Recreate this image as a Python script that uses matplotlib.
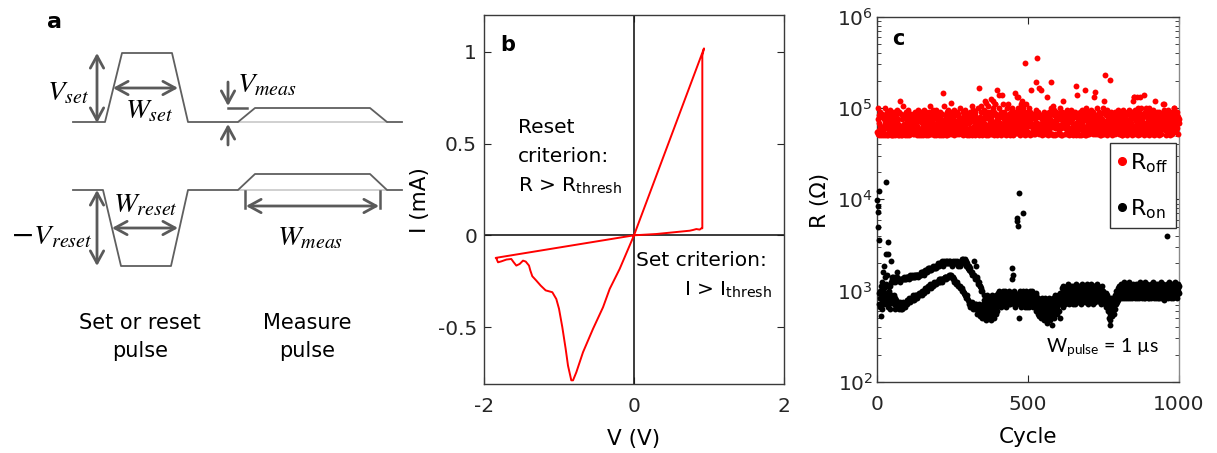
import numpy as np
import matplotlib
matplotlib.use('Agg')
import matplotlib.pyplot as plt
from matplotlib.ticker import LogLocator, NullFormatter
from matplotlib.lines import Line2D

plt.rcParams['font.family'] = ['DejaVu Sans']
plt.rcParams['mathtext.fontset'] = 'custom'
plt.rcParams['mathtext.rm'] = 'DejaVu Sans'
plt.rcParams['mathtext.it'] = 'STIXGeneral:italic'
plt.rcParams['mathtext.bf'] = 'DejaVu Sans:bold'
plt.rcParams['mathtext.sf'] = 'Lato'
plt.rcParams['axes.unicode_minus'] = False

W, H = 1217, 453

# ---------------- panel a: pulse schematic (drawing units = pixels) ----------
set_wave_x = [73, 105, 122, 172, 188, 238, 255, 370, 387, 402]
set_wave_y = [122, 122, 53, 53, 122, 122, 108, 108, 122, 122]
reset_wave_x = [73, 103, 121, 171, 188, 238, 255, 370, 387, 402]
reset_wave_y = [190, 190, 266, 266, 190, 190, 174, 174, 190, 190]

# ---------------- panel b: I-V sweep ----------------------------------------
iv_v = [0.0, 0.298, 0.52, 0.742, 0.787, 0.831, 0.876, 0.898, 0.911, 0.911, 0.933,
        0.0, -0.191, -0.324, -0.413, -0.547, -0.68, -0.769, -0.813, -0.836,
        -0.88, -0.911, -0.956, -1.0, -1.036, -1.089, -1.178, -1.244, -1.302,
        -1.356, -1.382, -1.40, -1.444, -1.48, -1.524, -1.569, -1.604, -1.636,
        -1.70, -1.769, -1.813, -1.836, -1.844, 0.0]
iv_i = [0.0, 0.007, 0.016, 0.025, 0.029, 0.034, 0.031, 0.038, 0.038, 0.978, 1.018,
        0.0, -0.183, -0.292, -0.392, -0.51, -0.637, -0.746, -0.79, -0.79,
        -0.71, -0.619, -0.50, -0.40, -0.347, -0.31, -0.30, -0.274, -0.247,
        -0.223, -0.192, -0.165, -0.143, -0.138, -0.156, -0.165, -0.147, -0.129,
        -0.132, -0.142, -0.147, -0.125, -0.123, 0.0]
b_xticks = [-2, 0, 2]
b_yticks = [-0.5, 0, 0.5, 1]

# ---------------- panel c: endurance (log10 R per cycle, coded) --------------
LEVELS = "0123456789abcdefghijklmnopqrstuvwxyz"
roff_base, roff_step = 4.68, 0.02
ron_base, ron_step = 2.55, 0.025
roff_codes = (
    "3a2g148c3e" "61c52d3b14" "52a6g81c25" "9e61b2d153" "86fa1b3d51"
    "4c7159eb26" "1c482f3a71" "35e16k4d21" "63a1h2c475" "21b4e6a51d"
    "5f83a16c42" "7d93c4b253" "82a5e63947" "1c63f25a14" "3b29e41d58"
    "4a16f8d3c7" "2e19b4a581" "64e27h9c52" "a36f482c51" "7d53e1fa48"
    "2b58c1e947" "1a36d85o14" "9h52a61c48" "3e1f29db52" "8c6j2e3a94"
    "5a2f1c6849" "3c6e92d847" "b25a6g74a9" "2841e6c5b2" "6f93a52c14"
    "4d28b1e359" "a3h15c2f49" "26e81c7a94" "358g261ar4" "7b2e3h148e"
    "62a4fk3c71" "j5e2bc3h16" "4a8e72l3b9" "2c5gk61e3i" "8i4dc2a1q5"
    "3a6gn2c8e4" "1dn7b3i5a2" "6e3c91a5g4" "b8i27d4c61" "5a3e8b2g71"
    "4c8a2eo6e3" "9bm5ag7m2c" "3e1a8i4c6k" "j2g5b3e91a" "z4c7ia2e86"
    "3g8c16e27a" "q62d5d4b72" "47a2fz3c68" "z35e2r6b47" "6cq5a81c47"
    "53e2a7d6b2" "4m8c16b2e3" "7a25g6u9d2" "2h61c8f519" "9b2e6a7d52"
    "6c35g2ae51" "1a7ek9d6c8" "52b8a6e3f2" "83b5d1c492" "2f45da3e17"
    "7b3e254s18" "4n82a6d15c" "5e91c7b8f4" "6c2a4e2q41" "1ga5d96e32"
    "8d23b6f957" "5c9e2d48am" "2p6a3c5g42" "3b75e8c941" "61d8a52g4k"
    "27e4z3c951" "8f36a5c39z" "4b9e5a7d18" "52c3a6e924" "7d35a9c8f2"
    "3a6e28d591" "1c7f49b2e3" "6b2d8a917e" "4e9f53a7c8" "8a5c1e6k3m"
    "m2b6f92c37" "m4a1g8c5e2" "2m6g9d47a8" "5b1n8e2c63" "3g7d24a9f5"
    "1g6c498e25" "7a3f96d1c2" "k4a8d26e93" "5b9e14c7a8" "2d6b85i9f6"
    "i4a7d61e52" "8fb7695e43" "1d5a3c2e76" "94agg6c7b8" "3c7e52b9a8"
)
roff_outliers = {491: 5.49, 526: 5.28, 531: 5.55, 755: 5.36, 770: 5.31}
ron_codes = (
    "xxxxxhcxfb" "ig7kdmeaiq" "fjcthoegly" "xkpexgbyic" "hfakmvegdo"
    "ndomcgnfoa" "mbnecoqdnb" "nacndmbnca" "nbnadnbncb" "ocnbodncoe"
    "odoenfodpe" "ofoeofpeog" "pfoepgofpg" "pgpfogphpg" "phpgqhpgqi"
    "qiqhpiqjri" "qjrirjqksj" "rkskrlsjrk" "slsksltlsm" "tlsmtlsmtm"
    "tmumtnumun" "unumvntnun" "vnuouovnuo" "uovouovpuo" "upvouptouo"
    "unvmunumvm" "ulumvluktk" "ukujtkvjuj" "uiwiuwhvhu" "gwgvftgufs"
    "esdtcrbsdq" "cqbpdqapcp" "bvaocnbtco" "8nam9lamck" "7kbj8ia6ib"
    "c8e6ga9d7f" "5bd9gc7ea6" "d8f6bc9e5g" "a7dcf6e9b8" "eac8gd9fbh"
    "fchdigecfb" "ehcgdifcge" "dgficehbfd" "hcegfidcgh" "cfgdesfnep"
    "gdicfbhegc" "fcxdxgxfx6" "ehcidfbgdh" "cgeixhdfbg" "hcfdigbecf"
    "edhbgcifdh" "cfidgbhecg" "dbfch9egac" "b8fdc7eb9d" "c6aeb8f7dc"
    "9e5cb7fa6d" "8cb4ed7a9f" "c5db6a7e3b" "e8cf6dbg9c" "dafc8ebgde"
    "fc9eh6dhfc" "hdjfbgkeid" "gejcfihdkf" "eiglfcjhek" "fjdigkehcj"
    "hekgicjfhl" "gjeihkdgjf" "ikfhcjgleh" "jfhkeigdkh" "gjeilfhcjg"
    "ighdkfjeil" "fjhcigkegi" "dhkfjgeilh" "kegjfhidjg" "hcjfkgeihd"
    "fdhcgefbhd" "ecga9dfb63" "8d5caf7eb9" "dbfc8egadf" "cgiefdjgeh"
    "hkgjfilhkg" "jfligkhmfj" "ighkfjlgih" "kfjhmgiflj" "higkfjlhgk"
    "jgifkhljgi" "fkhjlgifkh" "jmgihfkjlg" "hifkjgmhfi" "kgjlhfikgj"
    "ifkhjlgfki" "gjmihfkgjl" "hkfjgilhfk" "jgilfkhgmj" "ifhkjgliej"
    "jhkfgijhxk" "lgfkhjmgik" "hkjfilhgkj" "figkhjmlgk" "hjfkgjilkh"
)
ron_outliers = {1: 3.99, 2: 3.93, 3: 3.86, 4: 3.70, 5: 3.56, 8: 4.09, 31: 4.19,
                35: 3.535, 463: 3.80, 465: 3.76, 467: 3.71, 469: 4.07,
                485: 3.85, 959: 3.60}
c_xticks = [0, 500, 1000]


def decode(codes, base, step, outliers):
    vals = np.array([base + step * LEVELS.index(ch) for ch in codes])
    for cyc, v in outliers.items():
        vals[cyc - 1] = v
    return np.arange(1, len(codes) + 1), 10.0 ** vals


cyc_off, r_off = decode(roff_codes, roff_base, roff_step, roff_outliers)
cyc_on, r_on = decode(ron_codes, ron_base, ron_step, ron_outliers)

fig = plt.figure(figsize=(W / 100, H / 100), dpi=100)


def fx(px):
    return px / W


def fy(py):
    return 1 - py / H


# ================= panel a =================
axa = fig.add_axes([0, 0, 420 / W, 1])
axa.set_xlim(0, 420)
axa.set_ylim(H, 0)
axa.axis('off')
wave_c = '#5f5f5f'
arr_c = '#5a5a5a'
axa.plot([238, 387], [122, 122], color='#c8c8c8', lw=1.2)
axa.plot([238, 387], [190, 190], color='#c8c8c8', lw=1.2)
axa.plot(set_wave_x, set_wave_y, color=wave_c, lw=1.3)
axa.plot(reset_wave_x, reset_wave_y, color=wave_c, lw=1.3)


def arrow(ax, p0, p1, style='<->'):
    ax.annotate('', xy=p1, xytext=p0,
                arrowprops=dict(arrowstyle=style + ',head_length=0.55,head_width=0.3',
                                color=arr_c, lw=2.0, shrinkA=0, shrinkB=0,
                                mutation_scale=16))


arrow(axa, (97, 123), (97, 53))
arrow(axa, (113, 88), (178, 88))
arrow(axa, (228, 82), (228, 106), '->')
axa.plot([228, 247], [108, 108], color=arr_c, lw=1.8)
arrow(axa, (228, 145), (228, 124), '->')
arrow(axa, (97, 190), (97, 266))
arrow(axa, (112, 228), (178, 228))
axa.plot([245, 245], [191, 208], color=arr_c, lw=1.8)
axa.plot([380, 380], [191, 208], color=arr_c, lw=1.8)
arrow(axa, (246, 206), (379, 206))

mfs = 20.5
axa.text(68, 92, r'$V_{set}$', fontsize=mfs, ha='center', va='center')
axa.text(149, 110, r'$W_{set}$', fontsize=mfs, ha='center', va='center')
axa.text(267, 84, r'$V_{meas}$', fontsize=mfs, ha='center', va='center')
axa.text(145, 204, r'$W_{reset}$', fontsize=mfs, ha='center', va='center')
axa.text(51, 236, r'$-V_{reset}$', fontsize=mfs, ha='center', va='center')
axa.text(310, 237, r'$W_{meas}$', fontsize=mfs, ha='center', va='center')
axa.text(140, 337, 'Set or reset\npulse', fontsize=15, ha='center', va='center',
         linespacing=1.45)
axa.text(307, 337, 'Measure\npulse', fontsize=15, ha='center', va='center',
         linespacing=1.45)
axa.text(55, 22, 'a', fontsize=16, fontweight='bold', ha='center', va='center')

# ================= panel b =================
axb = fig.add_axes([fx(484), fy(384), 300 / W, 369 / H])
axb.plot(iv_v, iv_i, color='#ff0000', lw=1.4, zorder=3)
axb.axhline(0, color='#1a1a1a', lw=1.2, zorder=2)
axb.axvline(0, color='#1a1a1a', lw=1.2, zorder=2)
axb.set_xlim(-2, 2)
axb.set_ylim(-0.81, 1.2)
axb.set_xticks(b_xticks)
axb.set_yticks(b_yticks)
axb.set_yticklabels(['-0.5', '0', '0.5', '1'])
axb.tick_params(direction='in', top=True, right=True, length=5, width=0.8,
                labelsize=14.5, colors='#262626')
axb.tick_params(axis='x', pad=9)
axb.tick_params(axis='y', pad=5)
for s in axb.spines.values():
    s.set_color('#3a3a3a')
    s.set_linewidth(1.0)
tfs = 14.5
axb.text(-1.551, 0.557, 'Reset', fontsize=tfs, va='baseline', ha='left')
axb.text(-1.551, 0.399, 'criterion:', fontsize=tfs, va='baseline', ha='left')
axb.text(-1.551, 0.237, r'R > R$_{\mathrm{thresh}}$', fontsize=tfs, va='baseline', ha='left')
axb.text(0.027, -0.168, 'Set criterion:', fontsize=tfs, va='baseline', ha='left')
axb.text(1.844, -0.326, r'I > I$_{\mathrm{thresh}}$', fontsize=tfs, va='baseline', ha='right')
axb.text(0.08, 0.92, 'b', transform=axb.transAxes, fontsize=15, fontweight='bold',
         ha='center', va='center')
fig.text(fx(634), fy(439), 'V (V)', fontsize=15.5, ha='center', va='center')
fig.text(fx(420), fy(200), 'I (mA)', fontsize=15.5, ha='center', va='center',
         rotation=90)

# ================= panel c =================
axc = fig.add_axes([fx(877), fy(382), 302 / W, 365.3 / H])
axc.scatter(cyc_on, r_on, s=18, color='black', linewidths=0, clip_on=False, zorder=3)
axc.scatter(cyc_off, r_off, s=18, color='#ff0000', linewidths=0, clip_on=False, zorder=3)
axc.set_yscale('log')
axc.set_ylim(1e2, 1e6)
axc.set_xlim(0, 1000)
axc.set_xticks(c_xticks)
axc.yaxis.set_major_locator(LogLocator(base=10, numticks=10))
axc.yaxis.set_minor_locator(LogLocator(base=10, subs=np.arange(2, 10), numticks=20))
axc.yaxis.set_minor_formatter(NullFormatter())
axc.tick_params(which='both', direction='in', top=True, right=True, colors='#262626')
axc.tick_params(which='major', length=5, width=0.8, labelsize=14.5)
axc.tick_params(which='minor', length=3, width=0.6)
axc.tick_params(axis='x', pad=9)
axc.tick_params(axis='y', pad=3)
for s in axc.spines.values():
    s.set_color('#3a3a3a')
    s.set_linewidth(1.0)
axc.spines['right'].set_color('#8a8a8a')
handles = [Line2D([], [], marker='o', ls='', color='#ff0000', markersize=5.5),
           Line2D([], [], marker='o', ls='', color='black', markersize=5.5)]
leg = axc.legend(handles, [r'$\mathrm{R}_{\mathrm{off}}$', r'$\mathrm{R}_{\mathrm{on}}$'],
                 loc='upper left', bbox_to_anchor=(0.771, 0.654), fontsize=16,
                 frameon=True, fancybox=False, edgecolor='#333333', framealpha=1,
                 handlelength=0.4, handletextpad=0.15, borderpad=0.35,
                 labelspacing=1.05, borderaxespad=0)
leg.get_frame().set_linewidth(1.0)
axc.text(0.07, 0.94, 'c', transform=axc.transAxes, fontsize=15, fontweight='bold',
         ha='center', va='center')
axc.text(0.745, 0.095, r'$\mathsf{W}_{\mathsf{pulse}}$ = 1 µs', transform=axc.transAxes,
         fontsize=14, family='Lato', ha='center', va='center')
fig.text(fx(1028), fy(437), 'Cycle', fontsize=15.5, ha='center', va='center')
fig.text(fx(820), fy(200), 'R (Ω)', fontsize=15.5, ha='center', va='center',
         rotation=90)

fig.savefig('out.png', dpi=100)
